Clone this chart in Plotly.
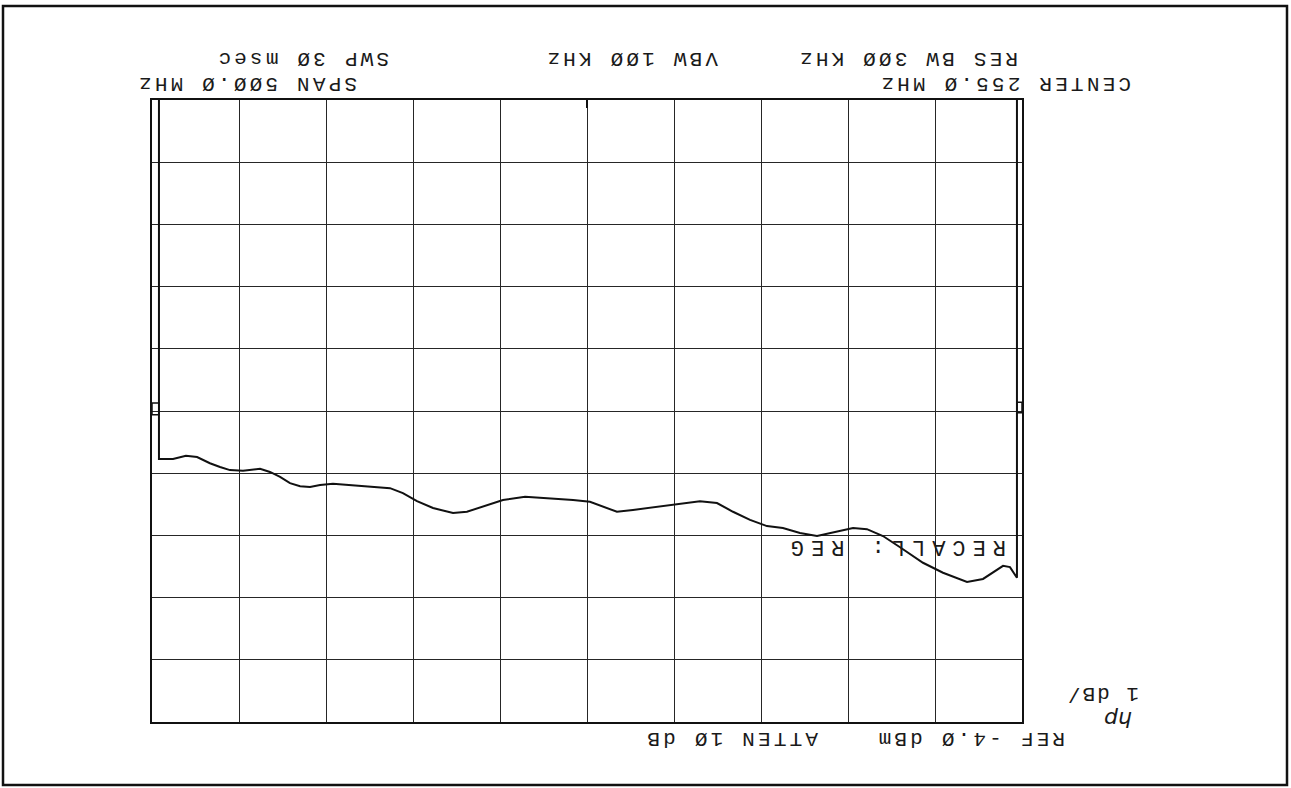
import plotly.graph_objects as go

# Spectrum analyzer trace (scan is rotated 180 degrees -> both axes reversed)
freq_mhz = [501.0, 501.0, 492.9, 485.5, 479.1, 471.7, 465.9, 460.2, 452.7, 442.9,
            437.2, 431.4, 425.7, 419.9, 414.2, 408.4, 401.0, 391.2, 381.4, 368.2,
            360.8, 352.7, 343.5, 332.0, 324.0, 314.8, 303.3, 290.6, 276.3, 263.0,
            253.3, 237.8, 228.6, 214.8, 203.3, 190.1, 180.3, 171.1, 161.3, 151.6,
            142.4, 132.6, 122.8, 113.6, 102.1, 94.1, 84.9, 75.1, 61.9, 50.4,
            36.6, 27.4, 15.9, 11.9, 7.9, 7.9]
level_dbm = [-14.0, -8.23, -8.23, -8.28, -8.26, -8.16, -8.10, -8.05, -8.04, -8.07,
             -8.02, -7.94, -7.84, -7.79, -7.78, -7.81, -7.83, -7.81, -7.78, -7.76,
             -7.68, -7.55, -7.44, -7.36, -7.38, -7.46, -7.57, -7.62, -7.60, -7.57,
             -7.54, -7.38, -7.41, -7.46, -7.49, -7.55, -7.52, -7.38, -7.25, -7.15,
             -7.12, -7.04, -6.99, -7.05, -7.12, -7.10, -6.99, -6.81, -6.56, -6.40,
             -6.25, -6.30, -6.51, -6.49, -6.32, -14.0]

center_mhz = 255.0
span_mhz = 500.0
ref_dbm = -4.0
db_per_div = 1.0
n_div = 10

labels_top = ["SWP 3Ø msec", "VBW 1ØØ KHz", "RES BW 3ØØ KHz"]
labels_second = ["SPAN 5ØØ.Ø MHz", "CENTER 255.Ø MHz"]
labels_bottom = ["ATTEN 1Ø dB", "REF -4.Ø dBm"]
scale_label = "1 dB/"
logo_label = "hp"
recall_label = "RECALL: REG"

W, H = 1291, 788
L, R, T, B = 152, 1022, 100, 722
pw, ph = R - L, B - T


def px(x):
    return (x - L) / pw


def py(y):
    return (B - y) / ph


f_lo = center_mhz - span_mhz / 2
f_hi = center_mhz + span_mhz / 2
bottom_lvl = ref_dbm - db_per_div * n_div

fig = go.Figure()
fig.add_trace(go.Scatter(x=freq_mhz, y=level_dbm, mode="lines",
                         line=dict(color="#111111", width=2), hoverinfo="skip",
                         showlegend=False))

grid_col = "#262626"
fig.update_xaxes(range=[f_hi, f_lo], tick0=f_lo, dtick=span_mhz / n_div,
                 showgrid=True, gridcolor=grid_col, gridwidth=1,
                 showticklabels=False, ticks="", zeroline=False,
                 showline=True, linecolor="#111111", linewidth=1.5, mirror=True)
fig.update_yaxes(range=[ref_dbm, bottom_lvl], tick0=ref_dbm, dtick=db_per_div,
                 showgrid=True, gridcolor=grid_col, gridwidth=1,
                 showticklabels=False, ticks="", zeroline=False,
                 showline=True, linecolor="#111111", linewidth=1.5, mirror=True)

mono = "Liberation Mono, DejaVu Sans Mono, monospace"
font = dict(family=mono, size=21, color="#1a1a1a")


def spaced(t, sp):
    return '<span style="letter-spacing:%.1fpx">%s</span>' % (sp, t)


ann = []
pos_top = [(302, 59), (631, 59), (908, 59)]
for t, (x, y) in zip(labels_top, pos_top):
    ann.append((spaced(t, 3.2), x, y, font))
pos_second = [(247, 84), (1005, 83)]
for t, (x, y) in zip(labels_second, pos_second):
    ann.append((spaced(t, 3.2), x, y, font))
pos_bottom = [(731, 739), (970, 739)]
for t, (x, y) in zip(labels_bottom, pos_bottom):
    ann.append((spaced(t, 3.2), x, y, font))
ann.append((spaced(scale_label, 2.0), 1103, 694, font))
ann.append((logo_label, 1118, 720, dict(family="DejaVu Sans", size=22, color="#1a1a1a", style="italic")))
ann.append((spaced(recall_label, 7.0), 895, 547, dict(family=mono, size=22, color="#1a1a1a")))

for t, x, y, fnt in ann:
    fig.add_annotation(text=t, x=px(x), y=py(y), xref="paper", yref="paper",
                       xanchor="center", yanchor="middle", textangle=180,
                       showarrow=False, font=fnt)

# outer frame of the scanned sheet
fig.add_shape(type="rect", xref="paper", yref="paper",
              x0=px(3), x1=px(1287), y0=py(785), y1=py(6),
              line=dict(color="#111111", width=2.5))

# small reference brackets and center marker
fig.add_shape(type="rect", xref="x", yref="y", x0=f_hi, x1=freq_mhz[0],
              y0=-9.13, y1=-8.94, line=dict(color="#111111", width=1.5))
fig.add_shape(type="rect", xref="x", yref="y", x0=freq_mhz[-1], x1=f_lo,
              y0=-9.14, y1=-8.97, line=dict(color="#111111", width=1.5))
fig.add_shape(type="line", xref="x", yref="y", x0=center_mhz, x1=center_mhz,
              y0=bottom_lvl, y1=bottom_lvl + 0.13, line=dict(color="#111111", width=2))

fig.update_layout(width=W, height=H, autosize=False,
                  margin=dict(l=L, r=W - R, t=T, b=H - B, pad=0),
                  paper_bgcolor="white", plot_bgcolor="white",
                  showlegend=False)

fig.write_html("out.html", config={"displayModeBar": False},
               post_script="document.body.style.margin='0';document.body.style.overflow='hidden';")
